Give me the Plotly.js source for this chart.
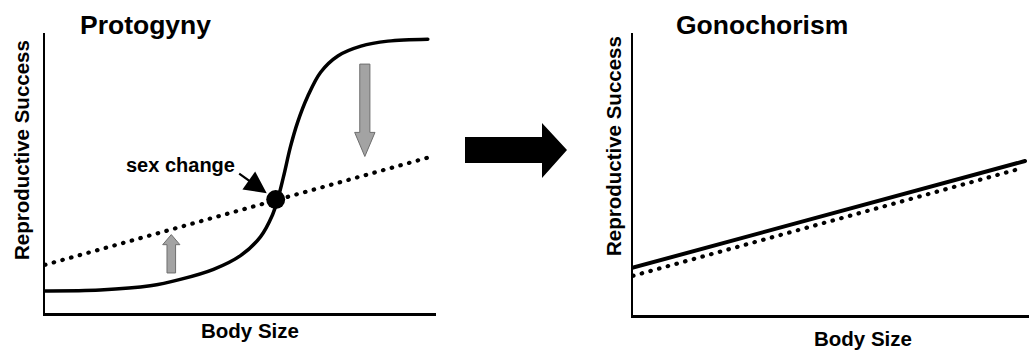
<!DOCTYPE html>
<html>
<head>
<meta charset="utf-8">
<script src="https://cdn.plot.ly/plotly-3.0.1.min.js"></script>
<style>
  html, body { margin: 0; padding: 0; background: #fff; }
  #chart { width: 1029px; height: 354px; }
  path.js-line { stroke-linecap: round !important; }
</style>
</head>
<body>
<div id="chart"></div>
<script>
// ---- Data (conceptual curves) ----
// Protogyny panel: male reproductive success (sigmoid, solid)
const protoMaleX = [0, 1.41, 2.69, 3.46, 4.31, 5.0, 5.51, 5.82, 5.95, 6.10, 6.28, 6.46, 6.72, 7.05, 7.49, 8.08, 8.77, 9.79];
const protoMaleY = [0.79, 0.82, 0.97, 1.20, 1.56, 2.05, 2.72, 3.51, 4.05, 4.87, 5.95, 6.81, 7.74, 8.60, 9.18, 9.53, 9.71, 9.78];
// Protogyny panel: female reproductive success (dotted line)
const protoFemaleX = [0, 9.82];
const protoFemaleY = [1.72, 5.56];
// Sex-change point (intersection)
const changeX = [5.90];
const changeY = [4.05];
// Gonochorism panel
const gonoMaleX = [0, 9.90];
const gonoMaleY = [1.68, 5.46];
const gonoFemaleX = [0, 9.75];
const gonoFemaleY = [1.39, 5.18];

// Text labels
const panelTitles = ['Protogyny', 'Gonochorism'];
const xTitle = 'Body Size';
const yTitle = 'Reproductive Success';
const changeLabel = 'sex change';

// ---- Layout helpers (pixel -> paper) ----
const W = 1029, H = 354;
const px = v => v / W;
const py = v => 1 - v / H;

const FONT = 'Liberation Sans, Arial, Helvetica, sans-serif';

const traces = [
  { x: protoFemaleX, y: protoFemaleY, xaxis: 'x', yaxis: 'y', mode: 'lines',
    line: { color: '#000', width: 4.2, dash: '0.5px,8.5px' }, hoverinfo: 'skip' },
  { x: protoMaleX, y: protoMaleY, xaxis: 'x', yaxis: 'y', mode: 'lines',
    line: { color: '#000', width: 3.5, shape: 'spline', smoothing: 1 }, hoverinfo: 'skip' },
  { x: changeX, y: changeY, xaxis: 'x', yaxis: 'y', mode: 'markers',
    marker: { color: '#000', size: 19 }, hoverinfo: 'skip' },
  { x: gonoFemaleX, y: gonoFemaleY, xaxis: 'x2', yaxis: 'y2', mode: 'lines',
    line: { color: '#000', width: 4.2, dash: '0.5px,8.5px' }, hoverinfo: 'skip' },
  { x: gonoMaleX, y: gonoMaleY, xaxis: 'x2', yaxis: 'y2', mode: 'lines',
    line: { color: '#000', width: 4 }, hoverinfo: 'skip' }
];

const axisCommon = {
  range: [0, 10], showline: true, linecolor: '#000', linewidth: 2.5,
  showgrid: false, zeroline: false, showticklabels: false, ticks: '', fixedrange: true
};

// gray block arrow path in data coords of left panel
function blockArrow(cx, shaftHalf, headHalf, tail, headBase, tip) {
  return `M ${cx - shaftHalf} ${tail} L ${cx + shaftHalf} ${tail} L ${cx + shaftHalf} ${headBase} ` +
         `L ${cx + headHalf} ${headBase} L ${cx} ${tip} L ${cx - headHalf} ${headBase} ` +
         `L ${cx - shaftHalf} ${headBase} Z`;
}

const layout = {
  width: W, height: H,
  margin: { l: 0, r: 0, t: 0, b: 0, pad: 0 },
  paper_bgcolor: '#fff', plot_bgcolor: 'rgba(0,0,0,0)',
  showlegend: false,
  font: { family: FONT, color: '#000' },
  xaxis: Object.assign({}, axisCommon, { domain: [px(45), px(436)], anchor: 'y' }),
  yaxis: Object.assign({}, axisCommon, { domain: [py(313), py(33)], anchor: 'x' }),
  xaxis2: Object.assign({}, axisCommon, { domain: [px(633), 1], anchor: 'y2' }),
  yaxis2: Object.assign({}, axisCommon, { domain: [py(315), py(33)], anchor: 'x2' }),
  shapes: [
    // down arrow (gray)
    { type: 'path', xref: 'x', yref: 'y', path: blockArrow(8.18, 0.13, 0.26, 8.89, 6.45, 5.59),
      fillcolor: '#a3a3a3', line: { color: '#6e6e6e', width: 1 } },
    // up arrow (gray)
    { type: 'path', xref: 'x', yref: 'y', path: blockArrow(3.23, 0.11, 0.22, 1.43, 2.44, 2.80),
      fillcolor: '#a3a3a3', line: { color: '#6e6e6e', width: 1 } },
    // big black arrow between panels
    { type: 'path', xref: 'paper', yref: 'paper',
      path: `M ${px(465)} ${py(137)} L ${px(542)} ${py(137)} L ${px(542)} ${py(123)} L ${px(567)} ${py(150)} ` +
            `L ${px(542)} ${py(178)} L ${px(542)} ${py(163)} L ${px(465)} ${py(163)} Z`,
      fillcolor: '#000', line: { color: '#000', width: 0 } }
  ],
  annotations: [
    { text: '<b>' + panelTitles[0] + '</b>', xref: 'paper', yref: 'paper', x: px(145), y: py(25),
      xanchor: 'center', yanchor: 'middle', showarrow: false, font: { size: 26.5, family: FONT } },
    { text: '<b>' + panelTitles[1] + '</b>', xref: 'paper', yref: 'paper', x: px(762), y: py(25),
      xanchor: 'center', yanchor: 'middle', showarrow: false, font: { size: 26.5, family: FONT } },
    { text: '<b>' + yTitle + '</b>', xref: 'paper', yref: 'paper', x: px(21), y: py(150),
      xanchor: 'center', yanchor: 'middle', textangle: -90, showarrow: false, font: { size: 20.5, family: FONT } },
    { text: '<b>' + yTitle + '</b>', xref: 'paper', yref: 'paper', x: px(613), y: py(146),
      xanchor: 'center', yanchor: 'middle', textangle: -90, showarrow: false, font: { size: 20.5, family: FONT } },
    { text: '<b>' + xTitle + '</b>', xref: 'paper', yref: 'paper', x: px(250), y: py(330),
      xanchor: 'center', yanchor: 'middle', showarrow: false, font: { size: 20.5, family: FONT } },
    { text: '<b>' + xTitle + '</b>', xref: 'paper', yref: 'paper', x: px(863), y: py(338),
      xanchor: 'center', yanchor: 'middle', showarrow: false, font: { size: 20.5, family: FONT } },
    { text: '<b>' + changeLabel + '</b>', xref: 'paper', yref: 'paper', x: px(180), y: py(165),
      xanchor: 'center', yanchor: 'middle', showarrow: false, font: { size: 20, family: FONT } },
    // arrow pointing at the sex-change point
    { text: '', xref: 'x', yref: 'y', x: changeX[0], y: changeY[0], showarrow: true,
      ax: -38, ay: -27, arrowhead: 2, arrowsize: 2, arrowwidth: 2.2, arrowcolor: '#000', standoff: 11 }
  ]
};

Plotly.newPlot('chart', traces, layout, { displayModeBar: false, staticPlot: true });
</script>
</body>
</html>
